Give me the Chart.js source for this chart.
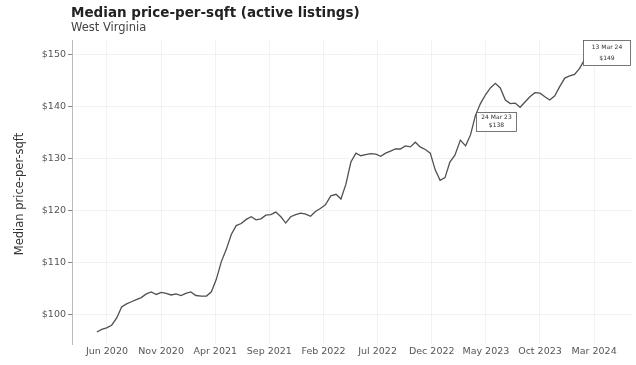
<!DOCTYPE html>
<html><head><meta charset="utf-8">
<script src="https://cdn.jsdelivr.net/npm/chart.js@4.4.1/dist/chart.umd.min.js"></script>
<style>html,body{margin:0;padding:0;background:#fff}#w{width:636px;height:365px}</style>
</head><body><div id="w"><canvas id="c" width="636" height="365"></canvas></div>
<script>
const titleText = "Median price-per-sqft (active listings)";
const subtitleText = "West Virginia";
const yAxisTitle = "Median price-per-sqft";
const dates = [
"2020-05-03","2020-05-17","2020-05-31","2020-06-14","2020-06-28","2020-07-12","2020-07-26","2020-08-09","2020-08-23","2020-09-06","2020-09-20","2020-10-04","2020-10-18","2020-11-01","2020-11-15","2020-11-29","2020-12-13","2020-12-27",
"2021-01-10","2021-01-24","2021-02-07","2021-02-21","2021-03-07","2021-03-21","2021-04-04","2021-04-18","2021-05-02","2021-05-16","2021-05-30","2021-06-13","2021-06-27","2021-07-11","2021-07-25","2021-08-08","2021-08-22","2021-09-05","2021-09-19","2021-10-03","2021-10-17","2021-10-31","2021-11-14","2021-11-28","2021-12-12","2021-12-26",
"2022-01-09","2022-01-23","2022-02-06","2022-02-20","2022-03-06","2022-03-20","2022-04-03","2022-04-17","2022-05-01","2022-05-15","2022-05-29","2022-06-12","2022-06-26","2022-07-10","2022-07-24","2022-08-07","2022-08-21","2022-09-04","2022-09-18","2022-10-02","2022-10-16","2022-10-30","2022-11-13","2022-11-27","2022-12-11","2022-12-25",
"2023-01-08","2023-01-22","2023-02-05","2023-02-19","2023-03-05","2023-03-19","2023-04-02","2023-04-16","2023-04-30","2023-05-14","2023-05-28","2023-06-11","2023-06-25","2023-07-09","2023-07-23","2023-08-06","2023-08-20","2023-09-03","2023-09-17","2023-10-01","2023-10-15","2023-10-29","2023-11-12","2023-11-26","2023-12-10","2023-12-24",
"2024-01-07","2024-01-21","2024-02-04"];
const prices = [
96.7,97.2,97.5,98.0,99.4,101.5,102.1,102.5,102.9,103.3,104.0,104.4,103.9,104.3,104.1,103.8,104.0,103.7,
104.1,104.4,103.7,103.6,103.6,104.4,106.8,110.2,112.6,115.4,117.1,117.5,118.3,118.8,118.2,118.4,119.1,119.2,119.7,118.8,117.6,118.8,119.2,119.5,119.3,118.9,
119.8,120.4,121.1,122.8,123.1,122.2,125.0,129.3,131.0,130.5,130.7,130.9,130.8,130.4,131.0,131.4,131.8,131.8,132.4,132.2,133.1,132.2,131.7,131.0,127.8,125.8,
126.3,129.3,130.6,133.5,132.4,134.5,138.2,140.5,142.2,143.5,144.4,143.5,141.2,140.5,140.6,139.8,140.8,141.8,142.6,142.5,141.8,141.2,142.0,143.8,145.4,145.8,
146.1,147.2,148.9];
const tickDates = ["2020-06-01","2020-11-01","2021-04-01","2021-09-01","2022-02-01","2022-07-01","2022-12-01","2023-05-01","2023-10-01","2024-03-01"];
const tickLabels = ["Jun 2020","Nov 2020","Apr 2021","Sep 2021","Feb 2022","Jul 2022","Dec 2022","May 2023","Oct 2023","Mar 2024"];
const yTicks = [100,110,120,130,140,150];
const annotDates = ["2023-04-02","2024-02-04"];
const annotValues = [138.2,148.9];
const annotTop = ["24 Mar 23","13 Mar 24"];
const annotBottom = ["$138","$149"];

function monthsOf(s){const [y,m,d]=s.split("-").map(Number);const dim=new Date(y,m,0).getDate();return (y-2020)*12+(m-6)+(d-1)/dim;}
const pts = dates.map((d,i)=>({x:monthsOf(d),y:prices[i]}));
const tickPos = tickDates.map(monthsOf);
const FONT = "'DejaVu Sans', sans-serif";

const deco = {
  id:'deco',
  afterDraw(chart){
    const ctx=chart.ctx, xs=chart.scales.x, ys=chart.scales.y;
    ctx.save();
    ctx.fillStyle='#222'; ctx.textAlign='left'; ctx.textBaseline='alphabetic';
    ctx.font="bold 13.5px "+FONT; ctx.fillText(titleText, 71, 17);
    ctx.fillStyle='#444'; ctx.font="11.5px "+FONT; ctx.fillText(subtitleText, 71, 31);
    ctx.save(); ctx.translate(20, 194); ctx.rotate(-Math.PI/2);
    ctx.textAlign='center'; ctx.textBaseline='middle'; ctx.fillStyle='#333'; ctx.font="11.5px "+FONT;
    ctx.fillText(yAxisTitle,0,0); ctx.restore();
    const offs=[[1,-4,40,19],[-1,-20,47,25]];
    annotDates.forEach((d,i)=>{
      const px=xs.getPixelForValue(monthsOf(d)), py=ys.getPixelForValue(annotValues[i]);
      const [dx,dy,w,h]=offs[i];
      const bx=Math.round(px+dx)+0.5, by=Math.round(py+dy)+0.5;
      ctx.fillStyle='#fff'; ctx.fillRect(bx,by,w,h);
      ctx.strokeStyle='#555'; ctx.lineWidth=0.8; ctx.strokeRect(bx,by,w,h);
      ctx.fillStyle='#333'; ctx.font="6px "+FONT; ctx.textAlign='center'; ctx.textBaseline='middle';
      ctx.fillText(annotTop[i], bx+w/2, by+h*0.28);
      ctx.fillText(annotBottom[i], bx+w/2, by+h*0.7);
    });
    ctx.restore();
  }
};

new Chart(document.getElementById('c'),{
  type:'line',
  data:{datasets:[{data:pts,borderColor:'#505050',borderWidth:1.3,pointRadius:0,tension:0,fill:false}]},
  options:{
    responsive:false,animation:false,
    layout:{padding:{top:40,right:4,left:0,bottom:0}},
    plugins:{legend:{display:false},tooltip:{enabled:false},title:{display:false}},
    scales:{
      x:{type:'linear',min:-3.23,max:48.5,
        afterBuildTicks(ax){ax.ticks=tickPos.map(v=>({value:v}));},
        afterFit(ax){ax.height=21;},
        ticks:{autoSkip:false,maxRotation:0,color:'#555',font:{family:FONT,size:9.5},padding:2,
          callback:(v,i)=>tickLabels[i]},
        grid:{color:'rgba(0,0,0,0.05)',drawTicks:false},
        border:{display:false}},
      y:{min:94.4,max:152.7,
        afterBuildTicks(ax){ax.ticks=yTicks.map(v=>({value:v}));},
        afterFit(ax){ax.width=72;},
        ticks:{color:'#555',font:{family:FONT,size:9.5},padding:2,callback:v=>'$'+v},
        grid:{color:'rgba(0,0,0,0.05)',tickLength:4,tickColor:'#888'},
        border:{display:true,color:'#bbb'}}
    }
  },
  plugins:[deco]
});
</script></body></html>
